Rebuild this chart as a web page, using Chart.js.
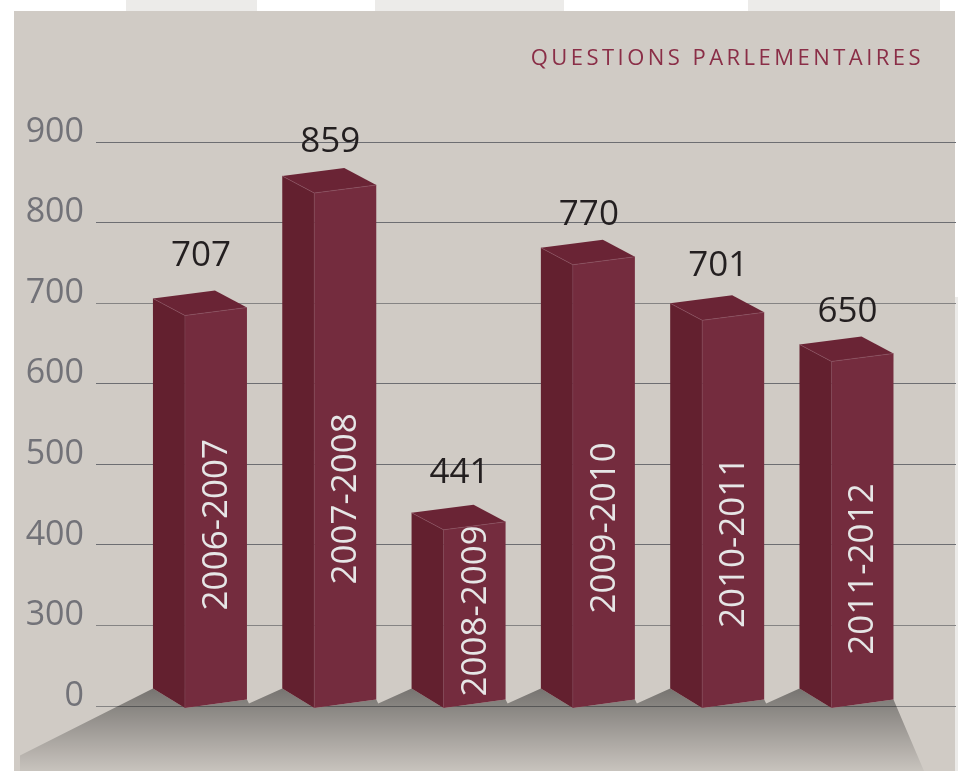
<!DOCTYPE html>
<html>
<head>
<meta charset="utf-8">
<title>Questions parlementaires</title>
<style>html,body{margin:0;padding:0;background:#fff}canvas{display:block}</style>
<script src="https://cdn.jsdelivr.net/npm/chart.js@4/dist/chart.umd.js"></script>
</head>
<body>
<canvas id="c" width="963" height="771"></canvas>
<script>
const titleText = 'QUESTIONS PARLEMENTAIRES';
const periods = ['2006-2007','2007-2008','2008-2009','2009-2010','2010-2011','2011-2012'];
const questions = [707,859,441,770,701,650];
const tickValues = [0,300,400,500,600,700,800,900];
// height, in axis units, at which each period label is centred on its bar
const periodLabelAt = [425,457,318,421,403,370];
// gap in pixels between each bar's top and the centre of its value label
const valueLabelLift = [41,33,39,32,36,31];

const FONT = '"Open Sans", sans-serif';
const BAR = {half:47, depthX:32, depthY:17, rightDrop:9, backRise:8, floorRaise:17, frontDrop:19.5, sideDrop:11};
const COLORS = {panel:'#d0cbc5', tab:'#ecebe9', front:'#742c3e', side:'#63202f', top:'#6a2435', edge:'#8d5263',
                title:'#8a2e47', value:'#231f20', tick:'#727278', period:'#e6e6e6'};

class BrokenLinearScale extends Chart.LinearScale {
  static id = 'brokenLinear';
  getPixelForValue(v) {
    const steps = tickValues.length - 1;
    const pos = v <= 300 ? v / 300 : 1 + (v - 300) / 100;
    return this.getPixelForDecimal(pos / steps);
  }
  _computeLabelItems(area) {
    const items = super._computeLabelItems(area);
    items.forEach(it => { it.options.translation[1] -= 10; });
    return items;
  }
}
Chart.register(BrokenLinearScale);

function poly(ctx, pts, fill) {
  ctx.beginPath();
  pts.forEach((p, i) => i ? ctx.lineTo(p[0], p[1]) : ctx.moveTo(p[0], p[1]));
  ctx.closePath();
  ctx.fillStyle = fill;
  ctx.fill();
}
function seg(ctx, a, b, color, w) {
  ctx.beginPath(); ctx.moveTo(a[0], a[1]); ctx.lineTo(b[0], b[1]);
  ctx.strokeStyle = color; ctx.lineWidth = w; ctx.stroke();
}

const stage = {
  id: 'stage',
  beforeDraw(chart) {
    const c = chart.ctx;
    c.save();
    c.fillStyle = '#fff'; c.fillRect(0, 0, 963, 771);
    c.fillStyle = COLORS.tab;
    [[126,131],[375,189],[748,192]].forEach(t => c.fillRect(t[0], 0, t[1], 11));
    c.fillRect(955, 297, 3, 474);
    c.fillStyle = COLORS.panel; c.fillRect(14, 11, 941, 760);
    c.restore();
  },
  beforeDatasetDraw(chart) {
    const c = chart.ctx, els = chart.getDatasetMeta(0).data;
    c.save();
    // floor shadow
    const floorY = els[0].base - BAR.floorRaise;
    const g = c.createLinearGradient(0, floorY, 0, 771);
    g.addColorStop(0, 'rgba(0,0,0,0.43)');
    g.addColorStop(1, 'rgba(0,0,0,0.04)');
    const pts = [[20, floorY + 67], [els[0].x - BAR.half, floorY]];
    els.forEach((e, i) => {
      const L = e.x - BAR.half, R = e.x + BAR.half;
      pts.push([L, floorY], [L + BAR.depthX, floorY + BAR.frontDrop], [R, floorY + BAR.sideDrop]);
      if (i < els.length - 1) {
        pts.push([R + 2, floorY + BAR.sideDrop + 4], [els[i + 1].x - BAR.half, floorY]);
      }
    });
    pts.push([924, 771], [20, 771]);
    poly(c, pts, g);
    // 3D bars
    els.forEach(e => {
      const L = e.x - BAR.half, R = e.x + BAR.half, F = L + BAR.depthX;
      const y = e.y + 1, b = floorY;
      const tl = [L, y], tf = [F, y + BAR.depthY], tr = [R, y + BAR.rightDrop], tb = [L + 62, y - BAR.backRise];
      const bl = [L, b], bf = [F, b + BAR.frontDrop], br = [R, b + BAR.sideDrop];
      poly(c, [tl, tf, bf, bl], COLORS.side);
      poly(c, [tf, tr, br, bf], COLORS.front);
      poly(c, [tl, tb, tr, tf], COLORS.top);
      seg(c, tl, tf, COLORS.edge, 0.6);
      seg(c, tf, tr, COLORS.edge, 0.6);
      seg(c, tf, bf, '#7f4354', 0.6);
    });
    c.restore();
    return false;
  },
  afterDatasetsDraw(chart) {
    const c = chart.ctx, els = chart.getDatasetMeta(0).data, y = chart.scales.y;
    c.save();
    c.textAlign = 'center'; c.textBaseline = 'middle';
    // value labels
    c.font = '35px ' + FONT; c.fillStyle = COLORS.value;
    els.forEach((e, i) => c.fillText(String(questions[i]), e.x + 1, e.y - valueLabelLift[i]));
    // period labels, rotated on the front face
    c.font = '35px ' + FONT; c.fillStyle = COLORS.period;
    els.forEach((e, i) => {
      c.save();
      c.translate(e.x + 16, y.getPixelForValue(periodLabelAt[i]));
      c.rotate(-Math.PI / 2);
      c.fillText(periods[i], 0, 1);
      c.restore();
    });
    // title
    c.font = '22px ' + FONT; c.fillStyle = COLORS.title;
    c.textAlign = 'right';
    c.letterSpacing = '3.46px';
    c.fillText(titleText, 924, 58.5);
    c.restore();
  }
};

new Chart(document.getElementById('c'), {
  type: 'bar',
  data: {
    labels: periods,
    datasets: [{
      label: 'Questions parlementaires',
      data: questions.map((v, i) => ({x: i, y: v})),
      backgroundColor: COLORS.front,
      barThickness: BAR.half * 2
    }]
  },
  plugins: [stage],
  options: {
    responsive: false,
    animation: false,
    layout: {padding: {top: 142, bottom: 65, right: 7, left: 0}},
    plugins: {legend: {display: false}, tooltip: {enabled: false}, title: {display: false}},
    scales: {
      x: {type: 'linear', offset: false, display: false, min: -0.804, max: 5.847, grid: {display: false}},
      y: {
        type: 'brokenLinear', min: 0, max: 900,
        afterBuildTicks: s => { s.ticks = tickValues.map(v => ({value: v})); },
        afterFit: s => { s.width = 96; },
        border: {display: false},
        grid: {
          drawTicks: false, lineWidth: 1,
          color: ctx => [800, 900, 600, 400, 500].includes(ctx.tick.value) ? '#6d6e72' : '#858484'
        },
        ticks: {
          autoSkip: false, padding: 12, color: COLORS.tick,
          font: {family: FONT, size: 34},
          callback: v => String(v)
        }
      }
    }
  }
});
</script>
</body>
</html>
